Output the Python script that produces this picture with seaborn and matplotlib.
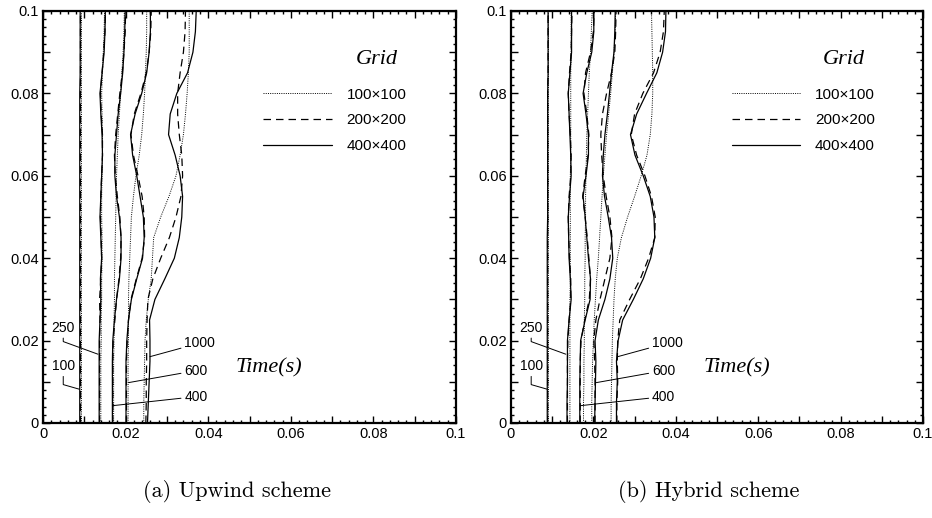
import matplotlib
matplotlib.use("Agg")
import matplotlib.pyplot as plt
import numpy as np
import pandas as pd
import seaborn as sns
from matplotlib.ticker import MultipleLocator, FuncFormatter
from matplotlib.lines import Line2D

# ---------------- data ----------------
HEIGHTS = [0.000, 0.005, 0.010, 0.015, 0.020, 0.025, 0.030, 0.035, 0.040, 0.045,
           0.050, 0.055, 0.060, 0.065, 0.070, 0.075, 0.080, 0.085, 0.090, 0.095, 0.100]

GRID_LABELS = ["100\u00d7100", "200\u00d7200", "400\u00d7400"]
CURVE_LABELS = ["100", "250", "400", "600", "1000"]

# Upwind scheme
up_t100_dot = [.0091, .0091, .0091, .0091, .0091, .0091, .0091, .0091, .0091, .0091, .0091,
               .0091, .0091, .0091, .0091, .0091, .0091, .0091, .0091, .0091, .0091]
up_t100_dash = [.0090, .0090, .0090, .0090, .0090, .0090, .0090, .0090, .0090, .0090, .0090,
                .0090, .0090, .0090, .0090, .0090, .0090, .0090, .0090, .0090, .0090]
up_t100_solid = [.0089, .0089, .0089, .0089, .0089, .0089, .0089, .0089, .0089, .0089, .0089,
                 .0089, .0089, .0089, .0089, .0089, .0089, .0090, .0090, .0090, .0090]

up_t250_dot = [.0140, .0140, .0140, .0140, .0141, .0141, .0142, .0142, .0143, .0143, .0142,
               .0142, .0143, .0144, .0144, .0143, .0142, .0144, .0146, .0148, .0149]
up_t250_dash = [.0137, .0137, .0137, .0137, .0137, .0138, .0137, .0140, .0142, .0141, .0139,
                .0140, .0142, .0144, .0144, .0141, .0139, .0143, .0147, .0150, .0151]
up_t250_solid = [.0136, .0136, .0136, .0136, .0136, .0138, .0140, .0139, .0142, .0140, .0138,
                 .0140, .0142, .0144, .0143, .0140, .0138, .0143, .0148, .0150, .0151]

up_t400_dot = [.0171, .0171, .0171, .0171, .0172, .0172, .0173, .0173, .0174, .0175, .0176,
               .0177, .0178, .0180, .0182, .0185, .0188, .0191, .0194, .0196, .0197]
up_t400_dash = [.0169, .0169, .0169, .0169, .0170, .0174, .0178, .0184, .0188, .0189, .0186,
                .0180, .0175, .0173, .0176, .0181, .0186, .0192, .0196, .0199, .0200]
up_t400_solid = [.0168, .0168, .0168, .0168, .0169, .0173, .0178, .0185, .0189, .0189, .0185,
                 .0178, .0174, .0174, .0178, .0182, .0188, .0193, .0196, .0198, .0199]

up_t600_dot = [.0206, .0206, .0206, .0206, .0207, .0207, .0207, .0208, .0210, .0212, .0214,
               .0219, .0225, .0233, .0239, .0243, .0246, .0248, .0250, .0251, .0251]
up_t600_dash = [.0202, .0202, .0202, .0202, .0204, .0207, .0213, .0226, .0240, .0246, .0245,
                .0240, .0230, .0219, .0213, .0221, .0237, .0250, .0257, .0261, .0262]
up_t600_solid = [.0201, .0201, .0201, .0201, .0203, .0207, .0214, .0227, .0241, .0245, .0243,
                 .0235, .0227, .0217, .0212, .0223, .0239, .0251, .0257, .0260, .0260]

up_t1000_dot = [.0244, .0244, .0245, .0246, .0247, .0250, .0255, .0262, .0265, .0268, .0285,
                .0305, .0322, .0332, .0340, .0345, .0349, .0352, .0354, .0354, .0354]
up_t1000_dash = [.0249, .0250, .0250, .0251, .0251, .0252, .0254, .0266, .0285, .0306, .0322,
                 .0334, .0338, .0336, .0330, .0326, .0326, .0332, .0340, .0344, .0345]
up_t1000_solid = [.0253, .0255, .0257, .0259, .0259, .0258, .0271, .0295, .0318, .0330, .0336,
                  .0338, .0332, .0320, .0304, .0308, .0324, .0350, .0363, .0369, .0371]

# Hybrid scheme
hy_t100_dot = [.0091, .0091, .0091, .0091, .0091, .0091, .0091, .0091, .0091, .0091, .0091,
               .0091, .0091, .0091, .0091, .0091, .0091, .0091, .0091, .0091, .0091]
hy_t100_dash = [.0089, .0089, .0089, .0089, .0089, .0089, .0089, .0089, .0089, .0089, .0089,
                .0089, .0089, .0089, .0089, .0089, .0089, .0090, .0090, .0090, .0090]
hy_t100_solid = [.0088, .0088, .0088, .0088, .0088, .0088, .0088, .0088, .0088, .0088, .0089,
                 .0089, .0089, .0089, .0089, .0089, .0089, .0090, .0090, .0090, .0090]

hy_t250_dot = [.0143, .0143, .0143, .0143, .0143, .0143, .0143, .0144, .0144, .0144, .0144,
               .0144, .0144, .0145, .0145, .0145, .0145, .0145, .0146, .0146, .0146]
hy_t250_dash = [.0137, .0137, .0137, .0137, .0138, .0141, .0145, .0145, .0142, .0140, .0139,
                .0141, .0145, .0146, .0144, .0141, .0139, .0142, .0146, .0147, .0148]
hy_t250_solid = [.0136, .0136, .0137, .0137, .0137, .0141, .0146, .0144, .0141, .0140, .0139,
                 .0142, .0146, .0145, .0143, .0141, .0139, .0143, .0147, .0147, .0147]

hy_t400_dot = [.0176, .0176, .0177, .0177, .0178, .0178, .0179, .0179, .0180, .0180, .0181,
               .0181, .0182, .0183, .0184, .0186, .0188, .0190, .0193, .0195, .0197]
hy_t400_dash = [.0168, .0168, .0168, .0168, .0170, .0179, .0190, .0193, .0189, .0185, .0180,
                .0174, .0180, .0187, .0189, .0184, .0177, .0181, .0193, .0200, .0202]
hy_t400_solid = [.0167, .0167, .0167, .0168, .0169, .0180, .0192, .0193, .0188, .0184, .0180,
                 .0175, .0182, .0188, .0188, .0182, .0175, .0184, .0196, .0201, .0201]

hy_t600_dot = [.0196, .0196, .0197, .0198, .0200, .0202, .0205, .0208, .0212, .0215, .0218,
               .0221, .0224, .0228, .0232, .0237, .0242, .0246, .0250, .0253, .0254]
hy_t600_dash = [.0204, .0204, .0204, .0203, .0201, .0206, .0216, .0228, .0240, .0245, .0240,
                .0231, .0224, .0220, .0218, .0222, .0232, .0244, .0252, .0254, .0255]
hy_t600_solid = [.0203, .0204, .0205, .0206, .0204, .0212, .0228, .0240, .0247, .0244, .0236,
                 .0227, .0222, .0224, .0228, .0234, .0239, .0244, .0250, .0252, .0253]

hy_t1000_dot = [.0243, .0243, .0244, .0245, .0246, .0248, .0250, .0253, .0258, .0268, .0283,
                .0300, .0316, .0330, .0338, .0342, .0344, .0344, .0343, .0342, .0341]
hy_t1000_dash = [.0257, .0257, .0259, .0258, .0259, .0264, .0288, .0314, .0334, .0349, .0350,
                 .0341, .0325, .0305, .0292, .0300, .0320, .0346, .0362, .0370, .0372]
hy_t1000_solid = [.0256, .0256, .0258, .0256, .0260, .0271, .0297, .0321, .0339, .0349, .0347,
                  .0338, .0321, .0301, .0290, .0305, .0329, .0354, .0368, .0375, .0376]

# curve-label annotation anchors (text position, point on curve)
LABEL_TEXT_XY = {"100": (0.0049, 0.0138), "250": (0.0049, 0.0231),
                 "400": (0.0342, 0.0064), "600": (0.0342, 0.0127), "1000": (0.0342, 0.0194)}
LABEL_TARGET_XY = {"100": (0.0088, 0.0082), "250": (0.0133, 0.0167),
                   "400": (0.0168, 0.0042), "600": (0.0207, 0.0098), "1000": (0.0259, 0.0161)}

SCHEMES = ["Upwind", "Hybrid"]
CAPTIONS = ["(a) Upwind scheme", "(b) Hybrid scheme"]

# ---------------- build long table ----------------
series = {
    "Upwind": {
        ("100", GRID_LABELS[0]): up_t100_dot, ("100", GRID_LABELS[1]): up_t100_dash, ("100", GRID_LABELS[2]): up_t100_solid,
        ("250", GRID_LABELS[0]): up_t250_dot, ("250", GRID_LABELS[1]): up_t250_dash, ("250", GRID_LABELS[2]): up_t250_solid,
        ("400", GRID_LABELS[0]): up_t400_dot, ("400", GRID_LABELS[1]): up_t400_dash, ("400", GRID_LABELS[2]): up_t400_solid,
        ("600", GRID_LABELS[0]): up_t600_dot, ("600", GRID_LABELS[1]): up_t600_dash, ("600", GRID_LABELS[2]): up_t600_solid,
        ("1000", GRID_LABELS[0]): up_t1000_dot, ("1000", GRID_LABELS[1]): up_t1000_dash, ("1000", GRID_LABELS[2]): up_t1000_solid,
    },
    "Hybrid": {
        ("100", GRID_LABELS[0]): hy_t100_dot, ("100", GRID_LABELS[1]): hy_t100_dash, ("100", GRID_LABELS[2]): hy_t100_solid,
        ("250", GRID_LABELS[0]): hy_t250_dot, ("250", GRID_LABELS[1]): hy_t250_dash, ("250", GRID_LABELS[2]): hy_t250_solid,
        ("400", GRID_LABELS[0]): hy_t400_dot, ("400", GRID_LABELS[1]): hy_t400_dash, ("400", GRID_LABELS[2]): hy_t400_solid,
        ("600", GRID_LABELS[0]): hy_t600_dot, ("600", GRID_LABELS[1]): hy_t600_dash, ("600", GRID_LABELS[2]): hy_t600_solid,
        ("1000", GRID_LABELS[0]): hy_t1000_dot, ("1000", GRID_LABELS[1]): hy_t1000_dash, ("1000", GRID_LABELS[2]): hy_t1000_solid,
    },
}
rows = []
for scheme, curves in series.items():
    for (lab, grid), xs in curves.items():
        for x, h in zip(xs, HEIGHTS):
            rows.append({"scheme": scheme, "label": lab, "grid": grid, "x": x, "height": h})
df = pd.DataFrame(rows)

# ---------------- styling ----------------
sns.set_style("ticks")
plt.rcParams.update({
    "axes.edgecolor": "black", "xtick.color": "black", "ytick.color": "black",
    "text.color": "black", "axes.labelcolor": "black",
})
plt.rcParams["font.family"] = ["Liberation Sans", "DejaVu Sans"]

LINE_STYLE = {
    GRID_LABELS[0]: dict(linestyle=(0, (1, 1.3)), linewidth=0.7),
    GRID_LABELS[1]: dict(linestyle=(0, (6, 4)), linewidth=0.9),
    GRID_LABELS[2]: dict(linestyle="-", linewidth=0.9),
}

fig = plt.figure(figsize=(9.32, 5.18), dpi=100)
axes = [fig.add_axes([0.04614, 0.18340, 0.44313, 0.79537]),
        fig.add_axes([0.54828, 0.18340, 0.44206, 0.79537])]
cap_x = [0.2543, 0.7607]
leg_x = [0.533, 0.5356]


def tick_fmt(v, pos):
    k = int(round(v * 100))
    if k == 0:
        return "0"
    if k == 10:
        return "0.1"
    return f"{v:.2f}" if k % 2 == 0 else ""


for i, (ax, scheme) in enumerate(zip(axes, SCHEMES)):
    sub = df[df["scheme"] == scheme]
    for lab in CURVE_LABELS:
        for grid in GRID_LABELS:
            cur = sub[(sub["label"] == lab) & (sub["grid"] == grid)]
            sns.lineplot(data=cur, x="x", y="height", sort=False, estimator=None,
                         ax=ax, color="black", **LINE_STYLE[grid])

    ax.set_xlim(0, 0.1)
    ax.set_ylim(0, 0.1)
    ax.set_xlabel("")
    ax.set_ylabel("")
    for axis in (ax.xaxis, ax.yaxis):
        axis.set_major_locator(MultipleLocator(0.01))
        axis.set_minor_locator(MultipleLocator(0.002))
        axis.set_major_formatter(FuncFormatter(tick_fmt))
    ax.tick_params(which="both", direction="in", top=True, right=True, width=1.0)
    ax.tick_params(which="major", length=5, labelsize=10.5, pad=3)
    ax.tick_params(which="minor", length=2.5)
    for s in ax.spines.values():
        s.set_linewidth(1.6)
        s.set_color("black")
        s.set_visible(True)

    # curve labels with leader lines
    for lab in CURVE_LABELS:
        tx, ty = LABEL_TEXT_XY[lab]
        px, py = LABEL_TARGET_XY[lab]
        if lab in ("100", "250"):
            ang = -16 if lab == "100" else -20
            ax.annotate(lab, xy=(px, py), xytext=(tx, ty), ha="center", va="center",
                        fontsize=10,
                        arrowprops=dict(arrowstyle="-", lw=0.7, color="black",
                                        shrinkA=0, shrinkB=0,
                                        connectionstyle=f"angle,angleA=90,angleB={ang},rad=0"))
        else:
            ax.annotate(lab, xy=(px, py), xytext=(tx, ty), ha="left", va="center",
                        fontsize=10,
                        arrowprops=dict(arrowstyle="-", lw=0.7, color="black",
                                        shrinkA=0, shrinkB=0))

    ax.text(0.467, 0.1335, "Time(s)", transform=ax.transAxes, ha="left", va="center",
            fontsize=16, fontstyle="italic", family="Liberation Serif")
    ax.text(0.8075, 0.882, "Grid", transform=ax.transAxes, ha="center", va="center",
            fontsize=16, fontstyle="italic", family="Liberation Serif")

    handles = [Line2D([], [], color="black", **LINE_STYLE[g]) for g in GRID_LABELS]
    ax.legend(handles, GRID_LABELS, loc="upper left", bbox_to_anchor=(leg_x[i], 0.8143),
              frameon=False, borderpad=0, borderaxespad=0, handlelength=4.5,
              handletextpad=0.95, labelspacing=0.78,
              prop={"family": "Liberation Sans", "size": 11})

    fig.text(cap_x[i], 0.052, CAPTIONS[i], ha="center", va="center",
             fontsize=16, family="cmr10")

fig.savefig("out.png", dpi=100)
